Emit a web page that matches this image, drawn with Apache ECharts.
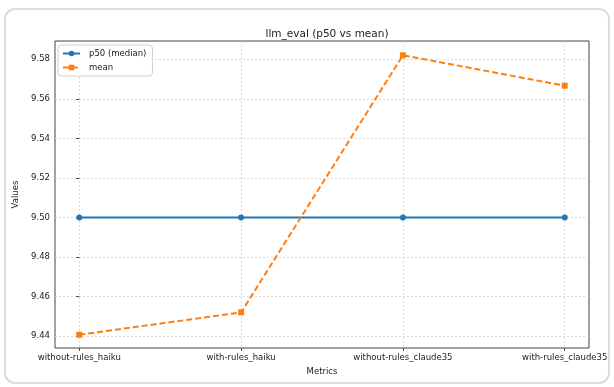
<!DOCTYPE html>
<html><head><meta charset="utf-8">
<script src="https://cdn.jsdelivr.net/npm/echarts@6/dist/echarts.min.js"></script>
<style>html,body{margin:0;padding:0;background:#fff}#c{width:614px;height:387px}</style>
</head><body><div id="c"></div>
<script>
const categories = ["without-rules_haiku", "with-rules_haiku", "without-rules_claude35", "with-rules_claude35"];
const p50Values = [9.50, 9.50, 9.50, 9.50];
const meanValues = [9.4407, 9.452, 9.582, 9.5666];
const yTicks = [9.44, 9.46, 9.48, 9.50, 9.52, 9.54, 9.56, 9.58];
const xTicks = [0, 1, 2, 3];

const chart = echarts.init(document.getElementById('c'), null, {renderer: 'canvas'});
const font = 'DejaVu Sans';
const gridLine = {show: true, lineStyle: {color: '#d0d0d0', type: [2, 2], width: 0.8}};
chart.setOption({
  animation: false,
  textStyle: {fontFamily: font},
  graphic: [{type: 'rect', shape: {x: 5, y: 9, width: 604, height: 374, r: 10},
    style: {fill: 'none', stroke: '#dcdcdc', lineWidth: 2}, z: -10}],
  title: {text: 'llm_eval (p50 vs mean)', left: 322, top: 24, textAlign: 'center',
    textStyle: {fontFamily: font, fontSize: 10.5, fontWeight: 'normal', color: '#222'}},
  legend: {left: 58, top: 45, orient: 'vertical', itemWidth: 17, itemHeight: 7, itemGap: 5,
    backgroundColor: '#fff', borderColor: '#d0d0d0', borderWidth: 1, borderRadius: 3, padding: [4, 6, 4, 4],
    textStyle: {fontFamily: font, fontSize: 8.5, color: '#222', padding: [0, 0, 0, 4]},
    data: ['p50 (median)', 'mean']},
  grid: {left: 55, top: 41, width: 534, height: 307, show: true, borderColor: '#444', borderWidth: 1, backgroundColor: 'transparent'},
  xAxis: {type: 'value', min: -0.15, max: 3.15,
    name: 'Metrics', nameLocation: 'middle', nameGap: 19,
    nameTextStyle: {fontFamily: font, fontSize: 8.5, color: '#222'},
    axisLine: {show: false},
    axisTick: {show: true, customValues: xTicks, length: 3, lineStyle: {color: '#444'}},
    axisLabel: {customValues: xTicks, formatter: v => categories[Math.round(v)], fontFamily: font, fontSize: 8.5, color: '#222', margin: 5},
    splitLine: gridLine},
  yAxis: {type: 'value', min: 9.434, max: 9.5892,
    name: 'Values', nameLocation: 'middle', nameGap: 30, nameRotate: 90,
    nameTextStyle: {fontFamily: font, fontSize: 8.5, color: '#222'},
    axisLine: {show: false},
    axisTick: {show: true, customValues: yTicks, length: 3, lineStyle: {color: '#444'}},
    axisLabel: {customValues: yTicks, formatter: v => v.toFixed(2), fontFamily: font, fontSize: 8.5, color: '#222', margin: 5},
    splitLine: gridLine},
  series: [
    {name: 'p50 (median)', type: 'line', data: p50Values.map((v, i) => [i, v]),
      symbol: 'circle', symbolSize: 6, itemStyle: {color: '#1f77b4'},
      lineStyle: {color: '#1f77b4', width: 2}},
    {name: 'mean', type: 'line', data: meanValues.map((v, i) => [i, v]),
      symbol: 'rect', symbolSize: 6, itemStyle: {color: '#ff7f0e'},
      lineStyle: {color: '#ff7f0e', width: 2, type: [6, 3]}}
  ]
});
</script></body></html>
